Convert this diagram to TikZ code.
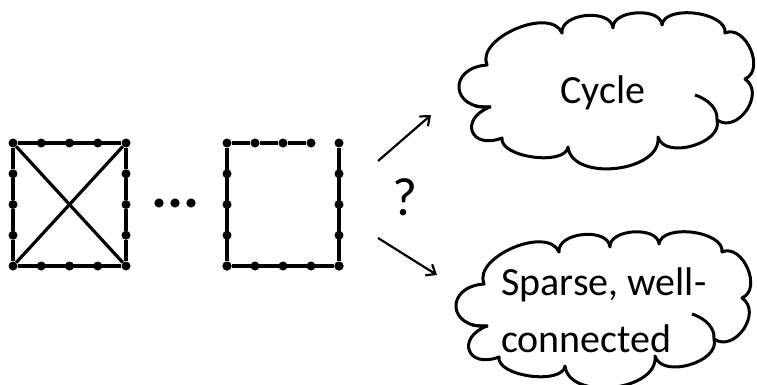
\documentclass[tikz,border=0pt]{standalone}
\usepackage{fontspec}
\setmainfont{Carlito}
\usetikzlibrary{arrows.meta}
\begin{document}
\begin{tikzpicture}
[   x=1pt,y=-1pt,
    dnode/.style={fill=black,circle,inner sep=0pt,minimum size=9pt},
    edge/.style={line width=3.2pt},
    bump/.style={bend left=90,looseness=#1},
    word/.style={font=\fontsize{40}{57}\selectfont,align=left,inner sep=0pt},
    pointer/.style={line width=2.2pt,-{Straight Barb[length=8pt,width=13pt,line width=2.2pt]}},
    puffy/.pic={
        \draw[line width=3pt,line join=round]
            (487,65) to[bump=0.92] (562,33) to[bump=1.0] (613,28) to[bump=0.95] (662,25)
            to[bump=0.85] (725,33) to[bump=1.15] (745,79) to[bump=1.3] (717,120)
            to[bump=1.0] (658,137) to[bump=1.0] (568,147) to[bump=0.75] (502,138)
            to[bump=2.6] (490,107) to[bump=2.4] cycle;
        \draw[line width=3pt] (695,95) .. controls (710,100) and (718,110) .. (717,120);
        \draw[line width=3pt] (475,106) .. controls (480,107) and (485,107) .. (491,107);
    },
]
    \useasboundingbox (0,0) rectangle (757,385);

    % left graph: cycle with two diagonals
    \foreach \x in {1,...,5}
    {   \node[dnode] (a-t\x) at ({13+28.25*(\x-1)},143) {};
        \node[dnode] (a-b\x) at ({13+28.25*(\x-1)},266) {};
    }
    \foreach \x in {2,...,4}
    {   \node[dnode] (a-l\x) at (13,{143+30.75*(\x-1)}) {};
        \node[dnode] (a-r\x) at (126,{143+30.75*(\x-1)}) {};
    }
    \draw[edge] (a-t1) -- (a-t5) -- (a-r2) -- (a-r3) -- (a-r4) -- (a-b5) -- (a-b1)
        -- (a-l4) -- (a-l3) -- (a-l2) -- (a-t1);
    \draw[edge] (a-t1) -- (a-b5);
    \draw[edge] (a-t5) -- (a-b1);

    \node[font=\fontsize{60}{60}\selectfont\bfseries] (dots) at (175.5,203) {...};

    % right graph: path
    \foreach \x in {1,...,5}
    {   \node[dnode] (b-b\x) at ({227+28*(\x-1)},266) {};
        \node[dnode] (b-l\x) at (227,{143+30.75*(\x-1)}) {};
        \node[dnode] (b-r\x) at (339,{143+30.75*(\x-1)}) {};
    }
    \foreach \x in {2,...,4}
    {   \node[dnode] (b-t\x) at ({227+28*(\x-1)},143) {};
    }
    \draw[edge] (b-t4) -- (b-t3) -- (b-t2) -- (b-l1) -- (b-l5) -- (b-b5) -- (b-r1);

    \node[font=\fontsize{54}{54}\selectfont] (quest) at (405,197) {?};

    % the two clouds
    \pic at (0,0) {puffy};
    \node[word,anchor=base] (cycle) at (603,103) {Cycle};
    \pic at (-3,219) {puffy};
    \node[word,anchor=base west] (sparse) at (501,352) {Sparse, well-\\connected};

    \coordinate (up-s) at (378,161);
    \coordinate (up-e) at (431,115);
    \coordinate (dn-s) at (378,238);
    \coordinate (dn-e) at (437,275);
    \draw[pointer] (up-s) -- (up-e);
    \draw[pointer] (dn-s) -- (dn-e);
\end{tikzpicture}
\end{document}
